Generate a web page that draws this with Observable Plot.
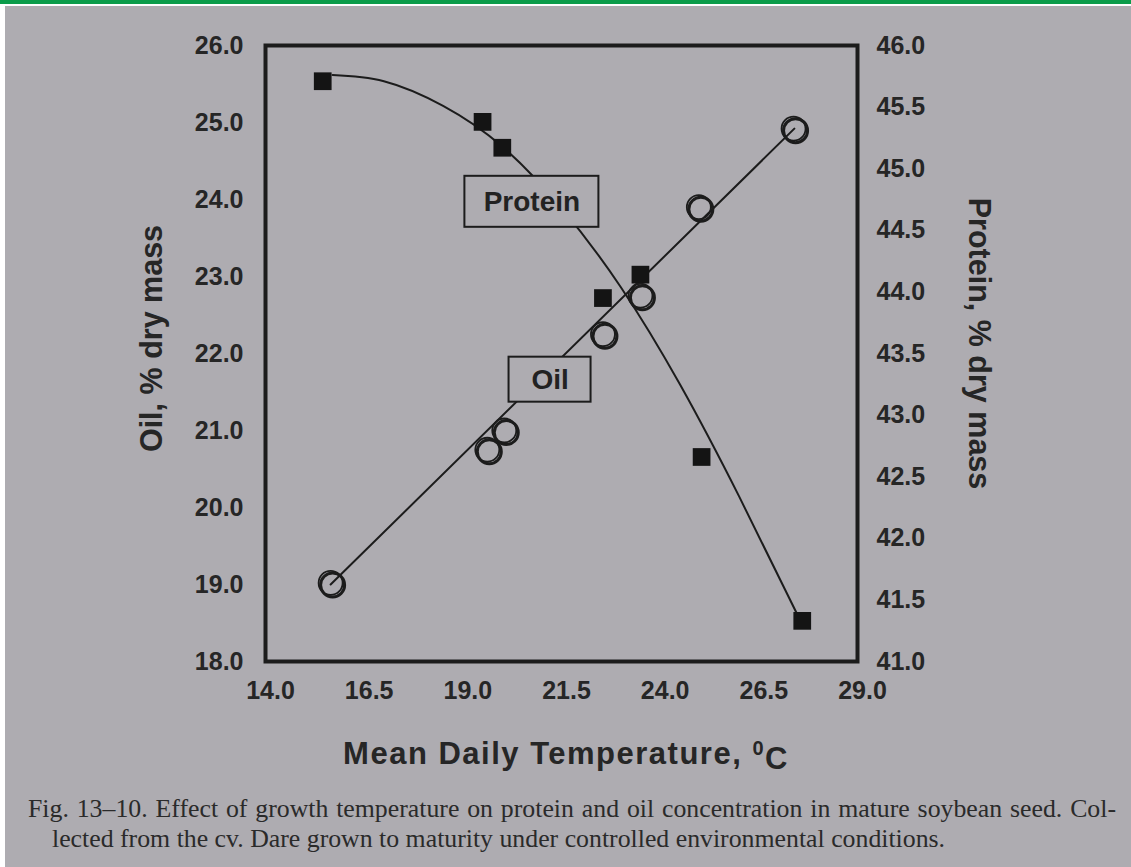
<!DOCTYPE html>
<html>
<head>
<meta charset="utf-8">
<script src="https://cdn.jsdelivr.net/npm/d3@7"></script>
<script src="https://cdn.jsdelivr.net/npm/@observablehq/plot@0.6"></script>
<style>
  html, body { margin: 0; padding: 0; background: #ffffff; }
  body { width: 1131px; height: 867px; overflow: hidden; position: relative; }
  #bar { position: absolute; left: 0; top: 0; width: 1131px; height: 4px; background: #0b9c4a; }
  #page { position: absolute; left: 5px; top: 6px; width: 1126px; height: 861px; background: #aeacb1; }
  #page svg text { font-weight: 700; }
  #caption { font-family: "Liberation Serif", "Times New Roman", serif; font-size: 25.8px; line-height: 30px;
             color: #2a2a2a; margin: 13px 0 0 23px; width: 1088px; }
  #caption .l1 { text-align: justify; text-align-last: justify; }
  #caption .l2 { padding-left: 24px; }
</style>
</head>
<body>
<div id="bar"></div>
<div id="page">
  <div id="chart"></div>
  <div id="caption">
    <div class="l1">Fig. 13–10. Effect of growth temperature on protein and oil concentration in mature soybean seed. Col-</div>
    <div class="l2">lected from the cv. Dare grown to maturity under controlled environmental conditions.</div>
  </div>
</div>
<script>
// ---- data ----
const proteinTemp = [15.45, 19.5, 20.0, 22.55, 23.5, 25.05, 27.6];
const proteinValue = [45.71, 45.38, 45.17, 43.95, 44.14, 42.66, 41.33];
const oilTemp = [15.65, 19.62, 20.05, 22.55, 23.5, 24.98, 27.38];
const oilValue = [19.02, 20.75, 21.0, 22.25, 22.75, 23.9, 24.92];
// fitted curves as drawn in the figure
const proteinFitTemp = [15.7, 17.0, 18.5, 20.0, 21.5, 23.0, 24.5, 26.0, 27.6];
const proteinFitValue = [45.76, 45.71, 45.51, 45.18, 44.68, 44.04, 43.25, 42.34, 41.30];
const oilFitTemp = [15.65, 27.4];
const oilFitValue = [19.0, 24.92];
// series labels (placed in data space)
const seriesLabels = ["Protein", "Oil"];
const labelTemp = [20.75, 21.21];
const labelOil = [23.97, 21.66];
// ticks
const tempTicks = [14.0, 16.5, 19.0, 21.5, 24.0, 26.5, 29.0];
const oilTicks = [18.0, 19.0, 20.0, 21.0, 22.0, 23.0, 24.0, 25.0, 26.0];
const proteinTicks = [41.0, 41.5, 42.0, 42.5, 43.0, 43.5, 44.0, 44.5, 45.0, 45.5, 46.0];

// ---- layout / style ----
const W = 1126, H = 775;
const mL = 260, mR = 274, mT = 39, mB = 120;
const ink = "#1c1c1c";
const bg = "#aeacb1";
const boxPx = {Protein: [134, 51], Oil: [82, 45]};
const pxPerX = (W - mL - mR) / 15;
const pxPerY = (H - mT - mB) / 8;

// protein (41–46) mapped onto the oil axis (18–26)
const toOil = p => 18 + (p - 41) * 8 / 5;
const toProtein = o => 41 + (o - 18) * 5 / 8;

const protein = proteinTemp.map((t, i) => ({t, y: toOil(proteinValue[i])}));
const oil = oilTemp.map((t, i) => ({t, y: oilValue[i]}));
const proteinFit = proteinFitTemp.map((t, i) => ({t, y: toOil(proteinFitValue[i])}));
const oilFit = oilFitTemp.map((t, i) => ({t, y: oilFitValue[i]}));
const labels = seriesLabels.map((s, i) => ({s, t: labelTemp[i], y: labelOil[i]}));

const chart = Plot.plot({
  width: W, height: H,
  marginLeft: mL, marginRight: mR, marginTop: mT, marginBottom: mB,
  style: {background: "transparent", fontFamily: "'Liberation Sans', Arial, sans-serif", color: "#262626"},
  x: {domain: [14, 29]},
  y: {domain: [18, 26]},
  marks: [
    Plot.axisX(tempTicks, {anchor: "bottom", tickSize: 0, tickPadding: 20, fontSize: 25, dx: 5,
      tickFormat: d => d.toFixed(1), label: null, fill: "#262626"}),
    Plot.axisY(oilTicks, {anchor: "left", tickSize: 0, tickPadding: 22, fontSize: 25,
      tickFormat: d => d.toFixed(1), label: null, fill: "#262626"}),
    Plot.axisY(proteinTicks.map(toOil), {anchor: "right", tickSize: 0, tickPadding: 19, fontSize: 25,
      tickFormat: d => toProtein(d).toFixed(1), label: null, fill: "#262626"}),
    Plot.line(proteinFit, {x: "t", y: "y", curve: "natural", stroke: ink, strokeWidth: 2}),
    Plot.line(oilFit, {x: "t", y: "y", stroke: ink, strokeWidth: 2}),
    Plot.rect(labels, {
      x1: d => d.t - boxPx[d.s][0] / 2 / pxPerX, x2: d => d.t + boxPx[d.s][0] / 2 / pxPerX,
      y1: d => d.y - boxPx[d.s][1] / 2 / pxPerY, y2: d => d.y + boxPx[d.s][1] / 2 / pxPerY,
      fill: bg, stroke: ink, strokeWidth: 2
    }),
    Plot.text(labels, {x: "t", y: "y", text: "s", fontSize: 28, fill: "#222"}),
    Plot.dot(protein, {x: "t", y: "y", symbol: "square", r: 10, fill: "#141414", stroke: "none"}),
    Plot.dot(oil, {x: "t", y: "y", r: 12, fill: "none", stroke: ink, strokeWidth: 3, dx: 2, dy: 2}),
    Plot.dot(oil, {x: "t", y: "y", r: 12, fill: "none", stroke: ink, strokeWidth: 1.8}),
    Plot.frame({stroke: ink, strokeWidth: 4}),
    Plot.text(["Oil, % dry mass"], {frameAnchor: "left", textAnchor: "middle", lineAnchor: "middle",
      rotate: -90, dx: -113, dy: -15, fontSize: 30.5, fill: "#262626"}),
    Plot.text(["Protein, % dry mass"], {frameAnchor: "right", textAnchor: "middle", lineAnchor: "middle",
      rotate: 90, dx: 121, dy: -10, fontSize: 30.5, fill: "#262626"}),
    Plot.text(["Mean Daily Temperature, ⁰C"], {frameAnchor: "bottom", textAnchor: "middle", lineAnchor: "middle",
      dx: 4.5, dy: 93, fontSize: 31, fill: "#262626"})
  ]
});
document.getElementById("chart").appendChild(chart);

// render the superscript 0 in the x-axis title as a raised small digit
d3.select(chart).selectAll("text").each(function () {
  const t = d3.select(this);
  if (t.text() === "Mean Daily Temperature, ⁰C") {
    t.text(null).style("letter-spacing", "1.5px");
    t.append("tspan").text("Mean Daily Temperature, ");
    t.append("tspan").attr("dy", "-0.45em").attr("font-size", "20px").text("0");
    t.append("tspan").attr("dy", "0.45em").text("C");
  }
});
</script>
</body>
</html>
